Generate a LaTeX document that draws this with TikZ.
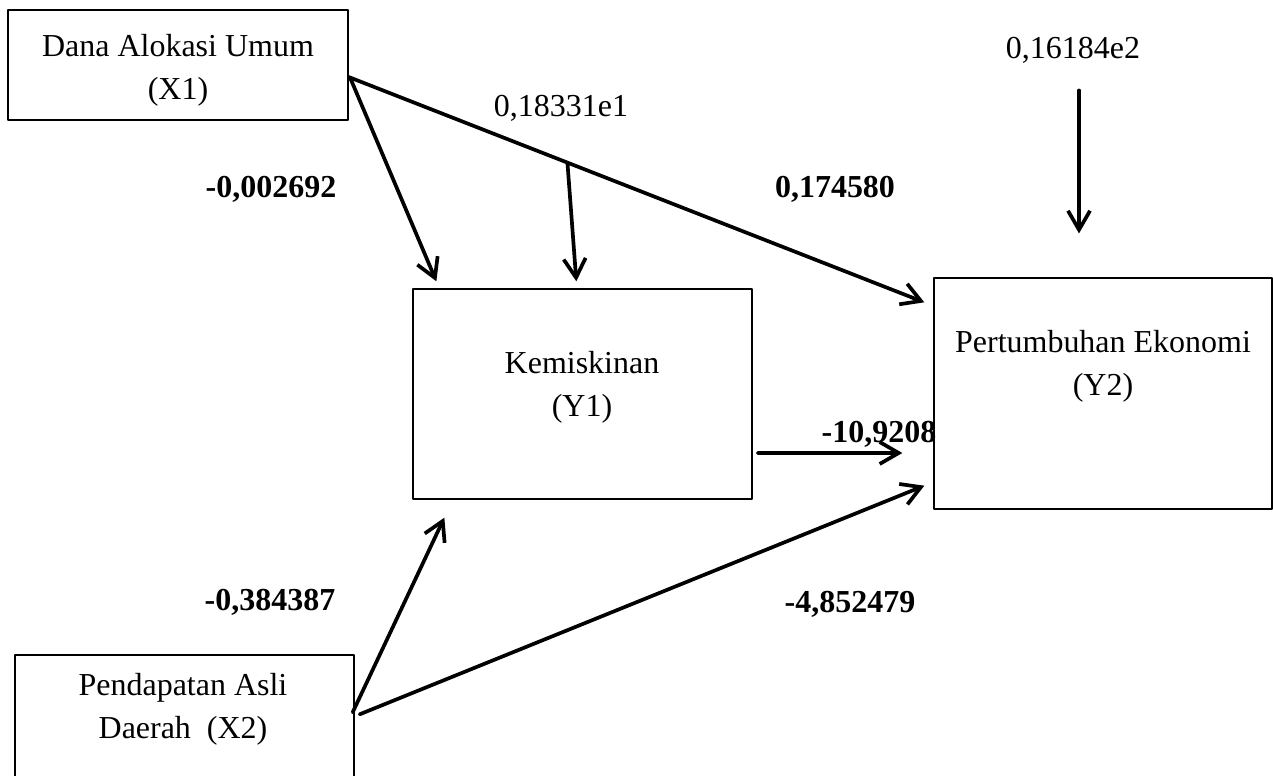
\documentclass[tikz,border=0pt]{standalone}
\usepackage{fontspec}
\setmainfont{Liberation Serif}
\usetikzlibrary{arrows.meta,calc}
\tikzset{
  every picture/.style={line join=round, line cap=round, >={Straight Barb[length=0.38cm,width=0.44cm]}},
  box/.style={draw, line width=0.8pt, inner sep=0pt},
  lbl/.style={align=center, inner sep=0pt, font=\fontsize{18.2}{24.4}\selectfont},
  coef/.style={inner sep=0pt, font=\fontsize{18.2}{24.4}\selectfont\bfseries},
  link/.style={->, line width=2.1pt},
}

\begin{document}
\begin{tikzpicture}[x=0.02cm,y=-0.02cm]
\clip (0,0) rectangle (1273,776);
% boxes
\node[box, minimum width=6.8cm, minimum height=2.2cm] (x1) at (178,65) {};
\node[box, minimum width=6.78cm, minimum height=2.9cm] (x2) at (184.5,727.5) {};
\node[box, minimum width=6.78cm, minimum height=4.2cm] (y1) at (582.5,394) {};
\node[box, minimum width=6.76cm, minimum height=4.62cm] (y2) at (1103,393.5) {};
\node[lbl] (x1t) at (178,70) {Dana Alokasi Umum\\(X1)};
\node[lbl] (x2t) at (183,709) {Pendapatan Asli\\Daerah\ \ (X2)};
\node[lbl] (y1t) at (582,387) {Kemiskinan\\(Y1)};
\node[lbl] (y2t) at (1103,366) {Pertumbuhan Ekonomi\\(Y2)};
% coefficients
\node[lbl] (e1) at (561,108) {0,18331e1};
\node[lbl] (e2) at (1073,50) {0,16184e2};
\node[coef] (c1) at (271,189) {-0,002692};
\node[coef] (c2) at (835,189) {0,174580};
\node[coef] (c3) at (879,434) {-10,9208};
\node[coef] (c4) at (270,602) {-0,384387};
\node[coef] (c5) at (850,604) {-4,852479};
% paths
\draw[link] ($(x1.east)+(0,12)$) -- coordinate[pos=0.38] (m) ($(y2.north west)+(-9,25)$);
\draw[link] ($(x1.east)+(2,14)$) -- ($(y1.north west)+(24,-7)$);
\draw[link] (m) -- ($(y1.north west)+(164,-7)$);
\draw[link] ($(e2.south)+(6,27)$) -- ($(e2.south)+(6,170)$);
\draw[link] ($(y1.east)+(5,59)$) -- ($(y2.west)+(-31,59.5)$);
\draw[link] ($(x2.north east)+(-2,58)$) -- ($(y1.south west)+(32,18)$);
\draw[link] ($(x2.north east)+(5,60)$) -- ($(y2.south west)+(-9,-24)$);
\end{tikzpicture}
\end{document}
